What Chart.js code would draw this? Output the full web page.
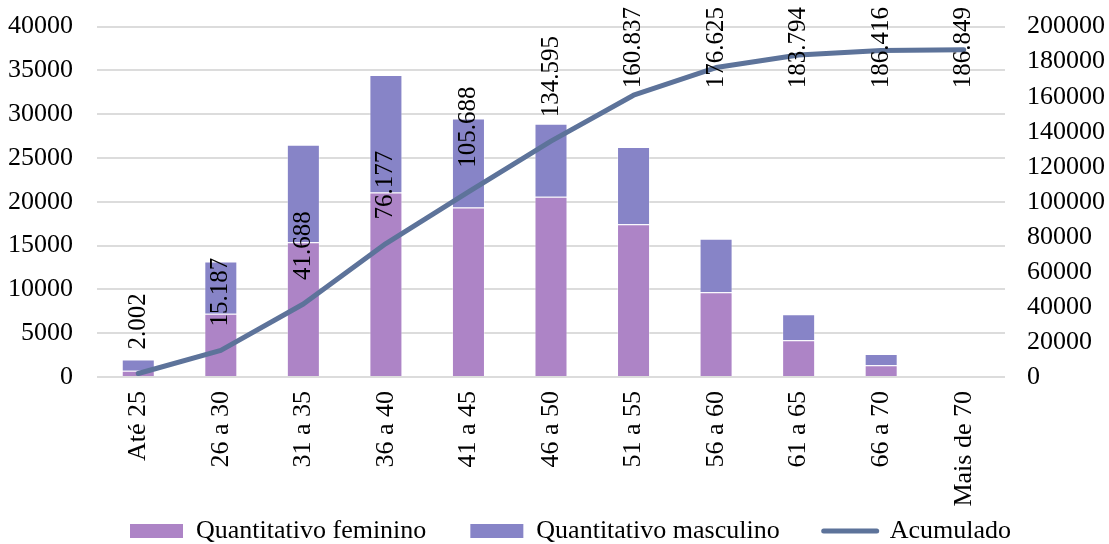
<!DOCTYPE html>
<html lang="pt-BR">
<head>
<meta charset="utf-8">
<title>Quantitativo por faixa etária</title>
<script src="https://cdn.jsdelivr.net/npm/chart.js@4.4.1/dist/chart.umd.min.js"></script>
<style>
  html, body { margin: 0; padding: 0; background: #ffffff; }
  #wrap { width: 1109px; height: 544px; }
</style>
</head>
<body>
<div id="wrap"><canvas id="grafico" width="1109" height="544"></canvas></div>
<script>
// Faixas etárias
const categorias = ['Até 25', '26 a 30', '31 a 35', '36 a 40', '41 a 45', '46 a 50',
                    '51 a 55', '56 a 60', '61 a 65', '66 a 70', 'Mais de 70'];

// Quantitativos por sexo (eixo esquerdo)
const feminino  = [720, 7230, 15390, 21070, 19350, 20570, 17450, 9680, 4190, 1330, null];
const masculino = [1282, 5955, 11111, 13419, 10161, 8337, 8792, 6108, 2979, 1292, null];

// Total acumulado (eixo direito)
const acumulado = [2002, 15187, 41688, 76177, 105688, 134595, 160837, 176625, 183794, 186416, 186849];

// Marcas dos eixos
const ticksEsquerdo = [0, 5000, 10000, 15000, 20000, 25000, 30000, 35000, 40000];
const ticksDireito  = [0, 20000, 40000, 60000, 80000, 100000, 120000, 140000, 160000, 180000, 200000];

const FONTE = '"Liberation Serif", "Times New Roman", serif';
const COR_FEM = '#AD84C6';
const COR_MASC = '#8784C7';
const COR_LINHA = '#5D739A';

// Número com separador de milhar em ponto
function formatarMilhar(v) {
  return String(Math.round(v)).replace(/\B(?=(\d{3})+(?!\d))/g, '.');
}

// Rótulos verticais sobre a linha do acumulado
const rotulosAcumulado = {
  id: 'rotulosAcumulado',
  afterDatasetsDraw(chart) {
    const meta = chart.getDatasetMeta(2);
    const ctx = chart.ctx;
    ctx.save();
    ctx.font = '25px ' + FONTE;
    ctx.fillStyle = '#000000';
    ctx.textAlign = 'left';
    ctx.textBaseline = 'middle';
    meta.data.forEach((pt, i) => {
      const txt = formatarMilhar(acumulado[i]);
      const w = ctx.measureText(txt).width;
      let inicio = pt.y - 24;
      if (inicio - w < 7) inicio = 7 + w;
      ctx.save();
      ctx.translate(pt.x, inicio);
      ctx.rotate(-Math.PI / 2);
      ctx.fillText(txt, 0, 0);
      ctx.restore();
    });
    ctx.restore();
  }
};

// Legenda posicionada logo abaixo dos rótulos das categorias
const posicaoLegenda = {
  id: 'posicaoLegenda',
  afterLayout(chart) {
    const lg = chart.legend;
    if (!lg) return;
    const h = lg.height;
    lg.left = 86;
    lg.right = chart.width;
    lg.top = 474;
    lg.bottom = lg.top + h;
  }
};

new Chart(document.getElementById('grafico'), {
  data: {
    labels: categorias,
    datasets: [
      {
        type: 'bar',
        label: 'Quantitativo feminino',
        data: feminino,
        backgroundColor: COR_FEM,
        borderColor: 'rgba(255,255,255,0.35)',
        borderWidth: 1,
        yAxisID: 'y',
        stack: 'sexo',
        order: 1,
        barPercentage: 0.4,
        categoryPercentage: 1
      },
      {
        type: 'bar',
        label: 'Quantitativo masculino',
        data: masculino,
        backgroundColor: COR_MASC,
        borderColor: 'rgba(255,255,255,0.35)',
        borderWidth: 1,
        yAxisID: 'y',
        stack: 'sexo',
        order: 1,
        barPercentage: 0.4,
        categoryPercentage: 1
      },
      {
        type: 'line',
        label: 'Acumulado',
        data: acumulado,
        borderColor: COR_LINHA,
        backgroundColor: COR_LINHA,
        borderWidth: 5,
        borderCapStyle: 'round',
        borderJoinStyle: 'round',
        pointRadius: 0,
        tension: 0,
        yAxisID: 'y1',
        order: 0
      }
    ]
  },
  options: {
    responsive: false,
    animation: false,
    devicePixelRatio: 1,
    layout: { padding: { top: 0, left: 0, right: 0, bottom: -53 } },
    scales: {
      x: {
        stacked: true,
        grid: { display: false, drawTicks: false },
        border: { display: false },
        ticks: {
          autoSkip: false,
          minRotation: 90,
          maxRotation: 90,
          padding: 14,
          color: '#000000',
          font: { family: FONTE, size: 26 }
        },
        afterFit(scale) { scale.height = 140; }
      },
      y: {
        position: 'left',
        stacked: true,
        min: 0,
        max: 40000,
        afterBuildTicks(scale) { scale.ticks = ticksEsquerdo.map(v => ({ value: v })); },
        grid: { color: '#dcdcdc', lineWidth: 2, drawTicks: true, tickLength: 13, tickColor: 'rgba(0,0,0,0)' },
        border: { display: false },
        ticks: {
          autoSkip: false,
          padding: 11,
          color: '#000000',
          font: { family: FONTE, size: 26 },
          callback: v => String(v)
        },
        afterFit(scale) { scale.width = 97; }
      },
      y1: {
        position: 'right',
        stacked: false,
        min: 0,
        max: 200000,
        afterBuildTicks(scale) { scale.ticks = ticksDireito.map(v => ({ value: v })); },
        grid: { display: true, drawOnChartArea: false, color: 'rgba(0,0,0,0)', drawTicks: true, tickLength: 11, tickColor: 'rgba(0,0,0,0)' },
        border: { display: false },
        ticks: {
          autoSkip: false,
          padding: 11,
          color: '#000000',
          font: { family: FONTE, size: 26 },
          callback: v => String(v)
        },
        afterFit(scale) { scale.width = 104; }
      }
    },
    plugins: {
      tooltip: { enabled: false },
      legend: {
        position: 'bottom',
        align: 'start',
        labels: {
          usePointStyle: true,
          pointStyleWidth: 53,
          boxHeight: 14,
          padding: 44,
          color: '#000000',
          font: { family: FONTE, size: 26 },
          generateLabels(chart) {
            const itens = Chart.defaults.plugins.legend.labels.generateLabels(chart);
            itens.forEach(it => {
              if (it.datasetIndex === 2) {
                it.pointStyle = 'line';
                it.strokeStyle = COR_LINHA;
                it.lineWidth = 5;
                it.lineCap = 'round';
              } else {
                it.pointStyle = 'rect';
                it.lineWidth = 0;
              }
            });
            return itens.sort((a, b) => a.datasetIndex - b.datasetIndex);
          }
        }
      }
    }
  },
  plugins: [rotulosAcumulado, posicaoLegenda]
});
</script>
</body>
</html>
